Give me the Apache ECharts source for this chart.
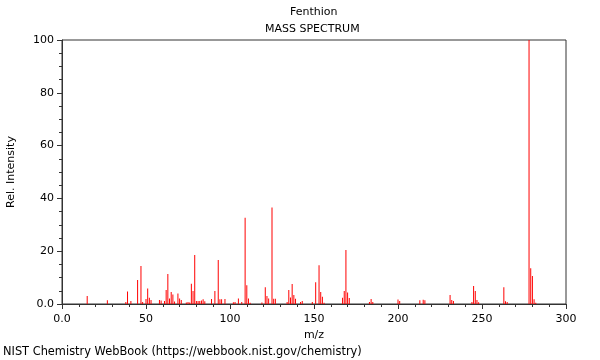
<!DOCTYPE html>
<html>
<head>
<meta charset="utf-8">
<script src="https://cdn.jsdelivr.net/npm/echarts@6/dist/echarts.min.js"></script>
<style>html,body{margin:0;padding:0;background:#fff}#c{width:600px;height:360px}</style>
</head>
<body>
<div id="c"></div>
<script>
const mz = [15,27,38,39,41,45,47,48,50,51,52,53,58,59,61,62,63,64,65,66,67,69,70,71,74,75,76,77,78,79,80,81,82,83,84,85,89,91,93,94,95,97,102,103,105,107,109,110,111,112,119,121,122,123,125,126,127,134,135,136,137,138,139,142,143,149,151,153,154,155,156,167,168,169,170,171,183,184,185,200,201,213,215,216,231,232,233,244,245,246,247,248,263,264,265,278,279,280,281,282];
const intensity = [3.0,1.4,0.8,4.7,1.1,9.1,14.4,0.8,1.9,5.9,2.4,1.5,1.5,1.3,1.1,5.3,11.4,2.1,4.5,3.6,0.9,4.0,2.1,1.5,0.6,0.8,0.6,7.7,4.9,18.6,1.1,1.1,1.1,1.3,1.8,1.0,1.9,4.9,16.7,1.8,1.8,1.9,0.7,0.8,2.1,0.8,32.7,7.1,2.1,0.5,0.6,6.3,3.0,2.1,36.6,2.0,2.0,0.8,5.3,2.5,7.6,3.4,2.0,0.8,1.1,0.8,8.2,14.7,4.5,2.7,0.5,2.4,4.9,20.5,4.4,2.3,0.8,1.9,0.8,1.7,1.1,1.4,1.6,1.4,3.4,1.5,1.1,0.8,6.8,4.9,1.5,0.7,6.3,1.0,0.8,100,13.5,10.6,1.8,0.5];
const titleText = 'Fenthion';
const subtitleText = 'MASS SPECTRUM';
const footerText = 'NIST Chemistry WebBook (https://webbook.nist.gov/chemistry)';

const chart = echarts.init(document.getElementById('c'), null, {renderer:'canvas'});
const font = 'DejaVu Sans';
const fmt = v => v === 0 ? '0.0' : String(v);
const tStyle = {fontFamily: font, fontSize: 11, fontWeight: 'normal', color: '#000'};
chart.setOption({
  animation: false,
  backgroundColor: '#fff',
  textStyle: {fontFamily: font},
  title: [
    {text: titleText, left: 290, top: 7, padding: 0, textStyle: tStyle},
    {text: subtitleText, left: 265, top: 24, padding: 0, textStyle: tStyle},
    {text: footerText, left: 3, top: 347, padding: 0, textStyle: Object.assign({}, tStyle, {fontSize: 11.4})}
  ],
  grid: {left: 62, right: 34, top: 40, bottom: 56, containLabel: false, outerBoundsMode: 'none', show: true, borderColor: '#333', borderWidth: 1, backgroundColor: 'transparent'},
  xAxis: {
    type: 'value', min: 0, max: 300, interval: 50,
    name: 'm/z', nameLocation: 'middle', nameGap: 24,
    nameTextStyle: {fontFamily: font, fontSize: 11, color: '#000'},
    axisLine: {show: true, lineStyle: {color: '#333'}},
    axisTick: {show: true, length: 5, lineStyle: {color: '#333'}},
    minorTick: {show: true, splitNumber: 5, length: 3, lineStyle: {color: '#333'}},
    splitLine: {show: false},
    axisLabel: {fontFamily: font, fontSize: 11, color: '#000', margin: 10, formatter: fmt}
  },
  yAxis: {
    type: 'value', min: 0, max: 100, interval: 20,
    name: 'Rel. Intensity', nameLocation: 'middle', nameGap: 45,
    nameTextStyle: {fontFamily: font, fontSize: 11, color: '#000'},
    axisLine: {show: true, lineStyle: {color: '#333'}},
    axisTick: {show: true, length: 5, lineStyle: {color: '#333'}},
    minorTick: {show: true, splitNumber: 4, length: 3, lineStyle: {color: '#333'}},
    splitLine: {show: false},
    axisLabel: {fontFamily: font, fontSize: 11, color: '#000', margin: 8, formatter: fmt}
  },
  series: [{
    type: 'bar',
    barWidth: 1,
    itemStyle: {color: '#ff0000'},
    data: mz.map((m, i) => [m, intensity[i]])
  }]
});
</script>
</body>
</html>
